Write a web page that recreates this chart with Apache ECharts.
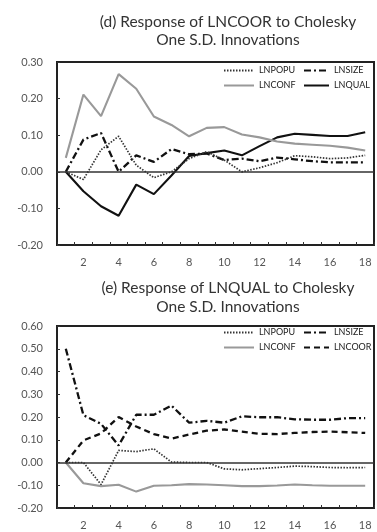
<!DOCTYPE html>
<html><head><meta charset="utf-8">
<script src="https://cdn.jsdelivr.net/npm/echarts@6/dist/echarts.min.js"></script>
<style>html,body{margin:0;padding:0;background:#fff}#c{width:377px;height:532px}</style>
</head><body><div id="c"></div>
<script>
const categories = ['1','2','3','4','5','6','7','8','9','10','11','12','13','14','15','16','17','18'];

// (d) Response of LNCOOR
const d_popu = [0, -0.021, 0.06, 0.097, 0.018, -0.016, 0.0, 0.036, 0.055, 0.032, 0.0, 0.011, 0.025, 0.044, 0.041, 0.036, 0.038, 0.045];
const d_size = [0, 0.088, 0.106, 0.0, 0.045, 0.027, 0.062, 0.048, 0.05, 0.032, 0.036, 0.029, 0.039, 0.034, 0.029, 0.026, 0.026, 0.026];
const d_conf = [0.038, 0.211, 0.152, 0.267, 0.227, 0.151, 0.128, 0.097, 0.12, 0.122, 0.102, 0.094, 0.083, 0.077, 0.074, 0.071, 0.066, 0.058];
const d_qual = [0, -0.053, -0.094, -0.12, -0.035, -0.061, -0.01, 0.043, 0.051, 0.058, 0.045, 0.07, 0.094, 0.104, 0.101, 0.098, 0.098, 0.108];

// (e) Response of LNQUAL
const e_popu = [0, 0, -0.097, 0.053, 0.048, 0.06, 0.002, 0.0, 0.0, -0.028, -0.032, -0.027, -0.022, -0.016, -0.018, -0.022, -0.023, -0.022];
const e_size = [0.5, 0.208, 0.17, 0.075, 0.21, 0.21, 0.25, 0.175, 0.183, 0.175, 0.203, 0.199, 0.199, 0.19, 0.188, 0.188, 0.195, 0.195];
const e_conf = [0, -0.091, -0.104, -0.098, -0.128, -0.102, -0.1, -0.095, -0.097, -0.1, -0.104, -0.104, -0.101, -0.097, -0.1, -0.102, -0.102, -0.102];
const e_coor = [0, 0.097, 0.128, 0.2, 0.158, 0.125, 0.105, 0.123, 0.14, 0.145, 0.136, 0.126, 0.125, 0.13, 0.134, 0.136, 0.133, 0.13];

const titles = ['(d) Response of LNCOOR to Cholesky\nOne S.D. Innovations', '(e) Response of LNQUAL to Cholesky\nOne S.D. Innovations'];
const yRanges = [[-0.2, 0.3], [-0.2, 0.6]];

const FONT = 'Lato';
const styles = {
  LNPOPU: {color: '#333', width: 1.7, type: [1.5, 1.5]},
  LNSIZE: {color: '#111', width: 2.3, type: [7, 3, 2, 3]},
  LNCONF: {color: '#999', width: 2.1, type: 'solid'},
  LNQUAL: {color: '#111', width: 2.1, type: 'solid'},
  LNCOOR: {color: '#111', width: 2.3, type: [6, 4]}
};

function mkSeries(name, data, idx, zeroLine) {
  const s = {
    name: name, type: 'line', data: data, xAxisIndex: idx, yAxisIndex: idx,
    symbol: 'none', smooth: false, animation: false,
    lineStyle: Object.assign({}, styles[name]), itemStyle: {color: styles[name].color}
  };
  if (zeroLine) {
    s.markLine = {silent: true, symbol: 'none', label: {show: false},
      lineStyle: {color: '#333', width: 1.5, type: 'solid'}, data: [{yAxis: 0}]};
  }
  return s;
}

const grids = [{left: 57, right: 3, top: 62, height: 183}, {left: 57, right: 3, top: 326, height: 182}];

const xAxes = grids.map((g, i) => ({
  type: 'category', gridIndex: i, data: categories, boundaryGap: true,
  axisLine: {show: false, onZero: false},
  axisTick: {show: true, inside: true, length: 3, interval: 0, lineStyle: {color: '#333'}},
  axisLabel: {interval: (k) => k % 2 === 1, color: '#555', fontFamily: FONT, fontSize: 11, margin: 12},
  splitLine: {show: false}
}));
const yAxes = grids.map((g, i) => ({
  type: 'value', gridIndex: i, min: yRanges[i][0], max: yRanges[i][1], interval: 0.1,
  axisLine: {show: false},
  axisTick: {show: true, inside: true, length: 3, lineStyle: {color: '#333'}},
  axisLabel: {formatter: (v) => v.toFixed(2), color: '#555', fontFamily: FONT, fontSize: 11, margin: 14},
  splitLine: {show: false}
}));

function leg(name, left, top, w) {
  return {left: left, top: top, data: [name], itemWidth: w, itemHeight: 8, padding: 0, itemGap: 0,
    itemStyle: {opacity: 0},
    selectedMode: false, textStyle: {fontFamily: FONT, fontSize: 9, color: '#222'}};
}

const option = {
  backgroundColor: '#fff',
  animation: false,
  title: [
    {text: titles[0], left: 223, top: 8, textAlign: 'center',
      textStyle: {fontFamily: FONT, fontSize: 15.5, fontWeight: 'normal', color: '#333', lineHeight: 18}},
    {text: titles[1], left: 223, top: 273, textAlign: 'center',
      textStyle: {fontFamily: FONT, fontSize: 15.5, fontWeight: 'normal', color: '#333', lineHeight: 19}}
  ],
  grid: grids.map(g => Object.assign({show: true, borderColor: '#222', borderWidth: 2, backgroundColor: 'transparent'}, g)),
  xAxis: xAxes, yAxis: yAxes,
  legend: [
    leg('LNPOPU', 223, 66, 30), leg('LNSIZE', 303, 66, 25),
    leg('LNCONF', 223, 81, 30), leg('LNQUAL', 303, 81, 25),
    leg('LNPOPU', 223, 328, 30), leg('LNSIZE', 303, 328, 25),
    leg('LNCONF', 223, 343, 30), leg('LNCOOR', 303, 343, 25)
  ],
  series: [
    mkSeries('LNQUAL', d_qual, 0, true),
    mkSeries('LNCONF', d_conf, 0),
    mkSeries('LNSIZE', d_size, 0),
    mkSeries('LNPOPU', d_popu, 0),
    mkSeries('LNCONF', e_conf, 1, true),
    mkSeries('LNCOOR', e_coor, 1),
    mkSeries('LNSIZE', e_size, 1),
    mkSeries('LNPOPU', e_popu, 1)
  ]
};
const chart = echarts.init(document.getElementById('c'), null, {renderer: 'canvas'});
chart.setOption(option);
</script></body></html>
